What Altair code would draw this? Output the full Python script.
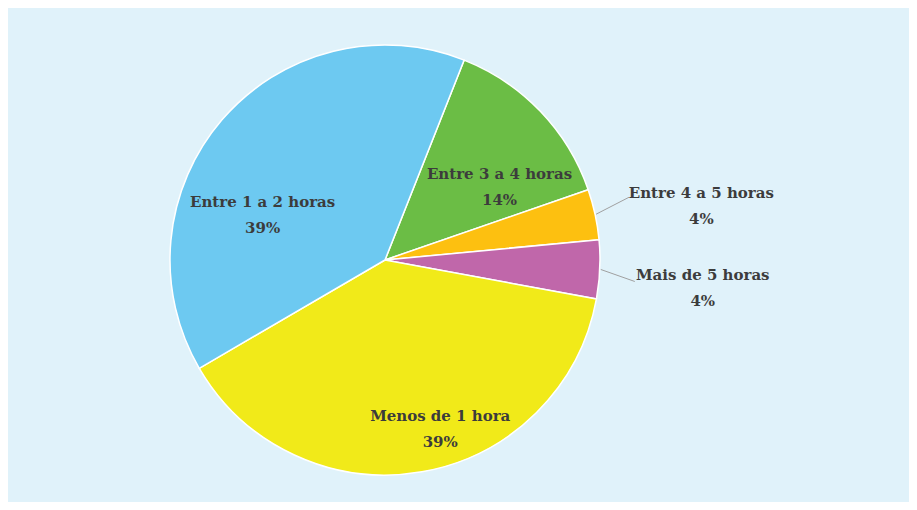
import math
import altair as alt
import pandas as pd

# ---- data ----
categories = ["Entre 3 a 4 horas", "Entre 4 a 5 horas", "Mais de 5 horas", "Menos de 1 hora", "Entre 1 a 2 horas"]
values = [13.7, 3.8, 4.4, 38.7, 39.4]
pct_labels = ["14%", "4%", "4%", "39%", "39%"]
colors = ["#6BBD45", "#FDC010", "#C067AA", "#F1EA19", "#6DC9F1"]

# ---- layout / style ----
W, H = 901, 494
CX, CY = 377, 252
R = 215
START = math.radians(21.6)
TOTAL = sum(values)
FONT = "DejaVu Serif"
TXT = "#3C3C3C"
BG = "#E0F2FA"

cum = 0
rows = []
for i, (c, v, p) in enumerate(zip(categories, values, pct_labels)):
    mid = cum + v / 2
    cum += v
    rows.append({"cat": c, "value": v, "order": i, "mid": mid, "label": c + "\n" + p})
df = pd.DataFrame(rows)

theta_scale = alt.Scale(domain=[0, TOTAL], range=[START, START + 2 * math.pi])

arcs = alt.Chart(df).mark_arc(outerRadius=R, stroke="white", strokeWidth=1.5).encode(
    theta=alt.Theta("value:Q", stack=True, scale=theta_scale),
    color=alt.Color("cat:N", scale=alt.Scale(domain=categories, range=colors), legend=None),
    order=alt.Order("order:Q"),
    x=alt.value(CX),
    y=alt.value(CY),
)

# per-label placement: (radius, dx, dy)
placement = {
    "Entre 3 a 4 horas": (135, 17, 7),
    "Entre 4 a 5 horas": (250, 72, -14),
    "Mais de 5 horas": (250, 68, 4),
    "Menos de 1 hora": (135, 32, 23),
    "Entre 1 a 2 horas": (135, -20, 30),
}

layers = [arcs]
for c in categories:
    r, dx, dy = placement[c]
    layers.append(
        alt.Chart(df).transform_filter(alt.datum.cat == c).mark_text(
            radius=r, dx=dx, dy=dy, lineBreak="\n", lineHeight=26, font=FONT,
            fontSize=15, fontWeight="bold", color=TXT, align="center", baseline="middle",
        ).encode(
            text="label:N",
            theta=alt.Theta("mid:Q", stack=None, scale=theta_scale),
            x=alt.value(CX),
            y=alt.value(CY),
        )
    )

# leader lines for the two small slices
lead = {"Entre 4 a 5 horas": (33, -17), "Mais de 5 horas": (34, 12)}
lrows = []
for _, row in df.iterrows():
    if row["cat"] in lead:
        a = START + row["mid"] / TOTAL * 2 * math.pi
        x1 = CX + (R + 1) * math.sin(a)
        y1 = CY - (R + 1) * math.cos(a)
        ox, oy = lead[row["cat"]]
        lrows.append({"x": x1, "y": y1, "x2": x1 + ox, "y2": y1 + oy})
ldf = pd.DataFrame(lrows)
lines = alt.Chart(ldf).mark_rule(color="#A0A0A0", strokeWidth=1).encode(
    x=alt.X("x:Q", scale=None), y=alt.Y("y:Q", scale=None),
    x2="x2:Q", y2="y2:Q",
)
layers.append(lines)

chart = alt.layer(*layers).properties(width=W, height=H, padding=0).configure(
    background=BG
).configure_view(stroke=None)

chart.save("out.html", embed_options={"renderer": "svg", "actions": False})
